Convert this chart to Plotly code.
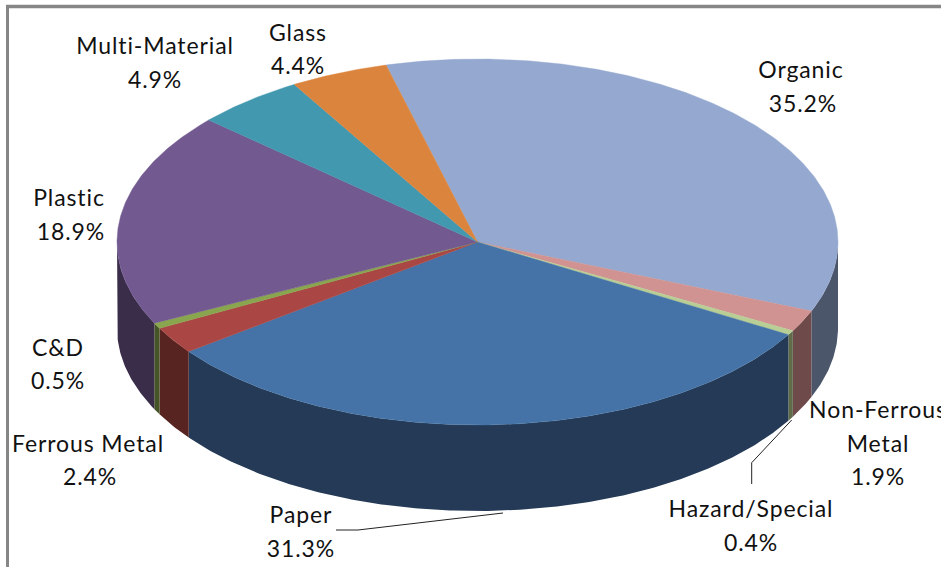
import numpy as np
import plotly.graph_objects as go

categories = ["Organic", "Non-Ferrous Metal", "Hazard/Special", "Paper", "Ferrous Metal",
              "C&D", "Plastic", "Multi-Material", "Glass"]
values = [35.2, 1.9, 0.4, 31.3, 2.4, 0.5, 18.9, 4.9, 4.4]
top_colors = ["#95A9D0", "#D09392", "#B9CE95", "#4573A7", "#AA4744", "#89A54E", "#725990", "#4298AF", "#DB843D"]
side_colors = ["#4B566B", "#6E4A4A", "#5F6B4A", "#243A56", "#572422", "#465527", "#3A2D4A", "#215060", "#6E421F"]

label_lines = [
    ("Organic", 801, 72), ("35.2%", 803, 106),
    ("Non-Ferrous", 878, 412), ("Metal", 878, 446), ("1.9%", 878, 479),
    ("Hazard/Special", 751, 511), ("0.4%", 751, 545),
    ("Paper", 301, 517), ("31.3%", 301, 551),
    ("Ferrous Metal", 88, 446), ("2.4%", 90, 479),
    ("C&D", 58, 350), ("0.5%", 58, 383),
    ("Plastic", 69, 200), ("18.9%", 71, 234),
    ("Multi-Material", 155, 48), ("4.9%", 155, 82),
    ("Glass", 298, 35), ("4.4%", 298, 68),
]

CX, CY, RX, RY, DEPTH = 477.5, 242, 360.5, 183, 86
START = -14.7


def arc(a0, a1):
    t = np.radians(np.linspace(a0, a1, max(int(abs(a1 - a0) * 2), 2)))
    return CX + RX * np.sin(t), CY - RY * np.cos(t)


fig = go.Figure()
edges = START + np.concatenate([[0], np.cumsum(values)]) / np.sum(values) * 360

# side walls: only the front half of the rim is visible
for i, name in enumerate(categories):
    a0, a1 = max(edges[i], 90), min(edges[i + 1], 270)
    if a1 <= a0:
        continue
    x, y = arc(a0, a1)
    fig.add_trace(go.Scatter(
        x=np.concatenate([x, x[::-1]]), y=np.concatenate([y, y[::-1] + DEPTH]),
        mode="lines", fill="toself", fillcolor=side_colors[i], line=dict(width=0),
        name=name, hoverinfo="skip", showlegend=False))

# top face
for i, name in enumerate(categories):
    x, y = arc(edges[i], edges[i + 1])
    fig.add_trace(go.Scatter(
        x=np.concatenate([[CX], x, [CX]]), y=np.concatenate([[CY], y, [CY]]),
        mode="lines", fill="toself", fillcolor=top_colors[i], line=dict(width=0.4, color=top_colors[i]),
        name=name, text=f"{name} {values[i]}%", hoverinfo="text", showlegend=False))

# leader lines
fig.add_trace(go.Scatter(x=[751.7, 751.7, 791.7], y=[484, 462.7, 420], mode="lines",
                         line=dict(color="#222222", width=1), hoverinfo="skip", showlegend=False))
fig.add_trace(go.Scatter(x=[336, 358, 503], y=[530, 530, 513], mode="lines",
                         line=dict(color="#222222", width=1), hoverinfo="skip", showlegend=False))

fig.add_trace(go.Scatter(
    x=[p[1] for p in label_lines], y=[p[2] for p in label_lines], text=[p[0] for p in label_lines],
    mode="text", textposition="middle center", cliponaxis=False,
    textfont=dict(family="Lato", size=23, color="#111111"), hoverinfo="skip", showlegend=False))

# outer frame
fig.add_shape(type="line", x0=7.5, x1=7.5, y0=6, y1=567, line=dict(color="#868686", width=3))
fig.add_shape(type="line", x0=6, x1=941, y0=6.5, y1=6.5, line=dict(color="#868686", width=3.5))

fig.update_layout(
    width=941, height=567, margin=dict(l=0, r=0, t=0, b=0), paper_bgcolor="white", plot_bgcolor="white",
    xaxis=dict(range=[0, 941], visible=False, fixedrange=True),
    yaxis=dict(range=[567, 0], visible=False, fixedrange=True),
)
page_css = "var s=document.createElement('style');s.textContent='html,body{margin:0;padding:0;overflow:hidden}.textpoint text{letter-spacing:0.9px}';document.head.appendChild(s);"
fig.write_html("out.html", config=dict(displayModeBar=False), post_script=page_css)
